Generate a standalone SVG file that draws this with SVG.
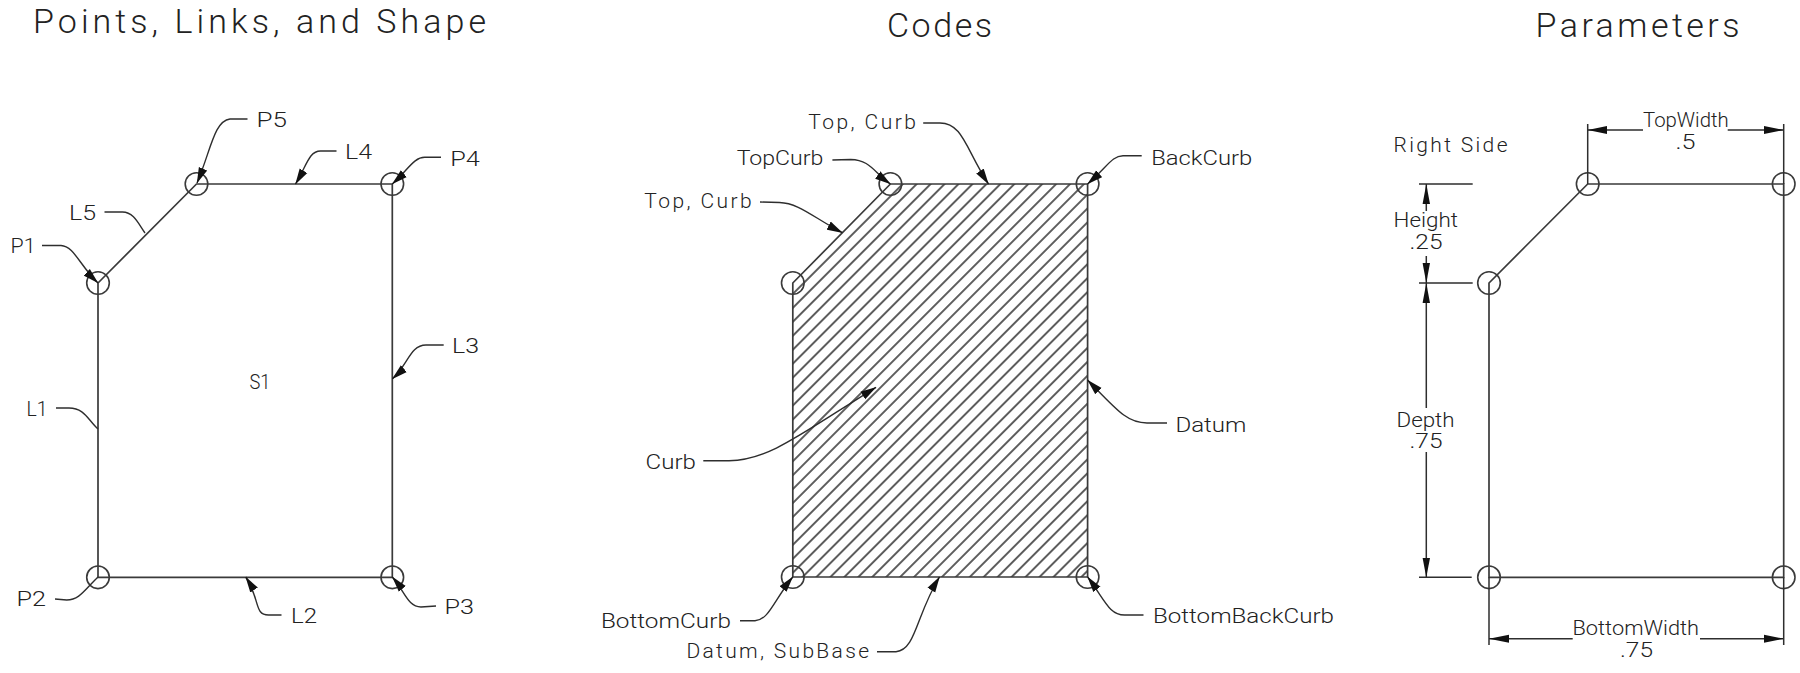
<svg xmlns="http://www.w3.org/2000/svg" width="1800" height="673" viewBox="0 0 1800 673">
<style>
text{font-family:Roboto,"Liberation Sans",sans-serif;font-weight:300;font-size:21px;fill:#222}
.title{font-size:34px}
.edge{fill:none;stroke:#3a3a3a;stroke-width:1.7}
.lead{fill:none;stroke:#2e2e2e;stroke-width:1.4}
.arrow{marker-end:url(#head)}
.dim{fill:none;stroke:#2e2e2e;stroke-width:1.5}
.pt{fill:none;stroke:#3a3a3a;stroke-width:1.6}
.ah{fill:#111}
</style>
<defs>
<marker id="head" markerUnits="userSpaceOnUse" markerWidth="16" markerHeight="10" viewBox="0 0 16 10" refX="15.5" refY="5" orient="auto"><path d="M0 0.5L16 5L0 9.5Z" fill="#111"/></marker>
<pattern id="hatch" patternUnits="userSpaceOnUse" x="-4.93" y="0" width="9.857" height="40" patternTransform="translate(1067.7 576.7) rotate(45)"><line x1="4.93" y1="0" x2="4.93" y2="40" stroke="#2a2a2a" stroke-width="1.5"/></pattern>
</defs>
<rect width="1800" height="673" fill="#fff"/>

<g id="titles">
<text class="title" x="33" y="33" textLength="453">Points, Links, and Shape</text>
<text class="title" x="887" y="37" textLength="105">Codes</text>
<text class="title" x="1535.5" y="37" textLength="204">Parameters</text>
</g>

<g id="shape-s1">
<path class="edge" d="M98 283L196.5 184H392.3V577.3H98Z"/>
<text x="249.5" y="389" textLength="21" lengthAdjust="spacingAndGlyphs">S1</text>
</g>
<g id="point-p1"><circle class="pt" cx="98" cy="283" r="11.3"/><text x="10.5" y="253" textLength="25" lengthAdjust="spacingAndGlyphs">P1</text></g>
<g id="point-p2"><circle class="pt" cx="98" cy="577.3" r="11.3"/><text x="16.5" y="606" textLength="29.5" lengthAdjust="spacingAndGlyphs">P2</text></g>
<g id="point-p3"><circle class="pt" cx="392.3" cy="577.3" r="11.3"/><text x="444.5" y="614" textLength="29.5" lengthAdjust="spacingAndGlyphs">P3</text></g>
<g id="point-p4"><circle class="pt" cx="392.3" cy="184" r="11.3"/><text x="450.2" y="166" textLength="29.6" lengthAdjust="spacingAndGlyphs">P4</text></g>
<g id="point-p5"><circle class="pt" cx="196.5" cy="184" r="11.3"/><text x="256.5" y="127" textLength="30.5" lengthAdjust="spacingAndGlyphs">P5</text></g>
<g id="label-l1"><text x="26.5" y="416" textLength="21" lengthAdjust="spacingAndGlyphs">L1</text></g>
<g id="label-l2"><text x="291" y="623" textLength="26" lengthAdjust="spacingAndGlyphs">L2</text></g>
<g id="label-l3"><text x="452" y="353" textLength="27" lengthAdjust="spacingAndGlyphs">L3</text></g>
<g id="label-l4"><text x="345" y="159" textLength="27" lengthAdjust="spacingAndGlyphs">L4</text></g>
<g id="label-l5"><text x="69" y="220" textLength="27" lengthAdjust="spacingAndGlyphs">L5</text></g>

<g id="shape-codes">
<path fill="url(#hatch)" stroke="none" d="M792.8 283L890.4 184H1087.6V577H792.8Z"/>
<path class="edge" d="M792.8 283L890.4 184H1087.6V577H792.8Z"/>
</g>
<g id="pt-a"><circle class="pt" cx="792.8" cy="283" r="11.3"/></g>
<g id="pt-topcurb"><circle class="pt" cx="890.4" cy="184" r="11.3"/><text x="736.7" y="165" textLength="86.6" lengthAdjust="spacingAndGlyphs">TopCurb</text></g>
<g id="pt-backcurb"><circle class="pt" cx="1087.6" cy="184" r="11.3"/><text x="1151.2" y="165" textLength="101" lengthAdjust="spacingAndGlyphs">BackCurb</text></g>
<g id="pt-bottomcurb"><circle class="pt" cx="792.8" cy="577" r="11.3"/><text x="600.9" y="628" textLength="130" lengthAdjust="spacingAndGlyphs">BottomCurb</text></g>
<g id="pt-bottombackcurb"><circle class="pt" cx="1087.6" cy="577" r="11.3"/><text x="1153" y="623" textLength="181" lengthAdjust="spacingAndGlyphs">BottomBackCurb</text></g>
<g id="code-top1"><text x="808.3" y="129" textLength="107.5">Top, Curb</text></g>
<g id="code-top2"><text x="644.2" y="208" textLength="107.5">Top, Curb</text></g>
<g id="code-curb"><text x="645.6" y="469" textLength="50.3" lengthAdjust="spacingAndGlyphs">Curb</text></g>
<g id="code-datum"><text x="1175.4" y="432" textLength="71" lengthAdjust="spacingAndGlyphs">Datum</text></g>
<g id="code-subbase"><text x="686.4" y="658" textLength="182.6">Datum, SubBase</text></g>

<g id="shape-params">
<path class="edge" d="M1489 283L1587.7 184H1783.7V577.3H1489Z"/>
</g>
<g id="pp1"><circle class="pt" cx="1489" cy="283" r="11.3"/></g>
<g id="pp2"><circle class="pt" cx="1587.7" cy="184" r="11.3"/></g>
<g id="pp3"><circle class="pt" cx="1783.7" cy="184" r="11.3"/></g>
<g id="pp4"><circle class="pt" cx="1783.7" cy="577.3" r="11.3"/></g>
<g id="pp5"><circle class="pt" cx="1489" cy="577.3" r="11.3"/></g>
<g id="dim-side"><text x="1393.5" y="152" textLength="114">Right Side</text></g>
<g id="dim-topwidth"><text x="1643" y="127" textLength="85.7" lengthAdjust="spacingAndGlyphs">TopWidth</text><text x="1675.5" y="149" textLength="20" lengthAdjust="spacingAndGlyphs">.5</text></g>
<g id="dim-height"><text x="1393.5" y="227" textLength="64.5" lengthAdjust="spacingAndGlyphs">Height</text><text x="1409.5" y="248.7" textLength="33" lengthAdjust="spacingAndGlyphs">.25</text></g>
<g id="dim-depth"><text x="1396.5" y="426.7" textLength="58" lengthAdjust="spacingAndGlyphs">Depth</text><text x="1409.5" y="448" textLength="33" lengthAdjust="spacingAndGlyphs">.75</text></g>
<g id="dim-bottomwidth"><text x="1572.5" y="635" textLength="126.5" lengthAdjust="spacingAndGlyphs">BottomWidth</text><text x="1620" y="657" textLength="33" lengthAdjust="spacingAndGlyphs">.75</text></g>

<g id="connectors">
<path class="lead arrow" d="M247.5 119H230C214 121 211 150 197 183"/>
<path class="lead arrow" d="M336.5 151H320.5C309 151 307 165 295.5 184"/>
<path class="lead arrow" d="M441 157.3H425C414 157 408 170 392.3 184"/>
<path class="lead" d="M104.5 212H122.5C134 212 139 225 145 233"/>
<path class="lead arrow" d="M42 245.5H61C74 246 80 266 98 283"/>
<path class="lead arrow" d="M443.7 345H426C410 345 408 365 392.3 379"/>
<path class="lead" d="M56 408H69C84.5 408 88 420 98 429"/>
<path class="lead arrow" d="M281.5 615H268.5C254 615 260.5 600 245.7 577"/>
<path class="lead" d="M55 599L66.7 600C79.5 600 84.5 590 98 577"/>
<path class="lead arrow" d="M436 606L421 607C408 607 405 592 392.3 577"/>

<path class="lead arrow" d="M923.2 123H940C963 123 966 150 988.5 184"/>
<path class="lead arrow" d="M832.4 160L850.6 159.5C870.5 160 873.5 172 890.4 184"/>
<path class="lead arrow" d="M1141.7 155.7H1123C1112 156 1108 166 1087.6 184"/>
<path class="lead arrow" d="M760 202L779.5 202.5C799 203 814 218 842.4 232.7"/>
<path class="lead arrow" d="M703.3 460.7H729C769 460 799 435 876 387.3"/>
<path class="lead arrow" d="M1167 423H1147C1127 423 1117 410 1087.6 380"/>
<path class="lead arrow" d="M740 620.7H755C769 620 774 600 792.8 577"/>
<path class="lead arrow" d="M877 651.7H896C916 650 916 615 939.5 577"/>
<path class="lead arrow" d="M1143.5 615H1124.5C1109 615 1105 600 1087.6 577"/>

<path class="dim" d="M1587.7 124V184M1783.7 124V184M1587.7 130H1643M1727.7 130H1783.7"/>
<path class="ah" d="M1587.7 130L1607 126V134Z"/>
<path class="ah" d="M1783.7 130L1764 126V134Z"/>
<path class="dim" d="M1419 184H1472.7M1419 283H1472.7M1419 577.3H1471.7M1426.3 184V211M1426.3 256V283V408M1426.3 452V577.3"/>
<path class="ah" d="M1426.3 184L1422.6 204H1430Z"/>
<path class="ah" d="M1426.3 283L1422.6 263H1430Z"/>
<path class="ah" d="M1426.3 283L1422.6 303H1430Z"/>
<path class="ah" d="M1426.3 577.3L1422.6 558H1430Z"/>
<path class="dim" d="M1489 577.3V645M1783.7 577.3V645M1489 638.7H1572.7M1700 638.7H1783.7"/>
<path class="ah" d="M1489 638.7L1509 634.7V642.7Z"/>
<path class="ah" d="M1783.7 638.7L1764 634.7V642.7Z"/>
</g>
</svg>
